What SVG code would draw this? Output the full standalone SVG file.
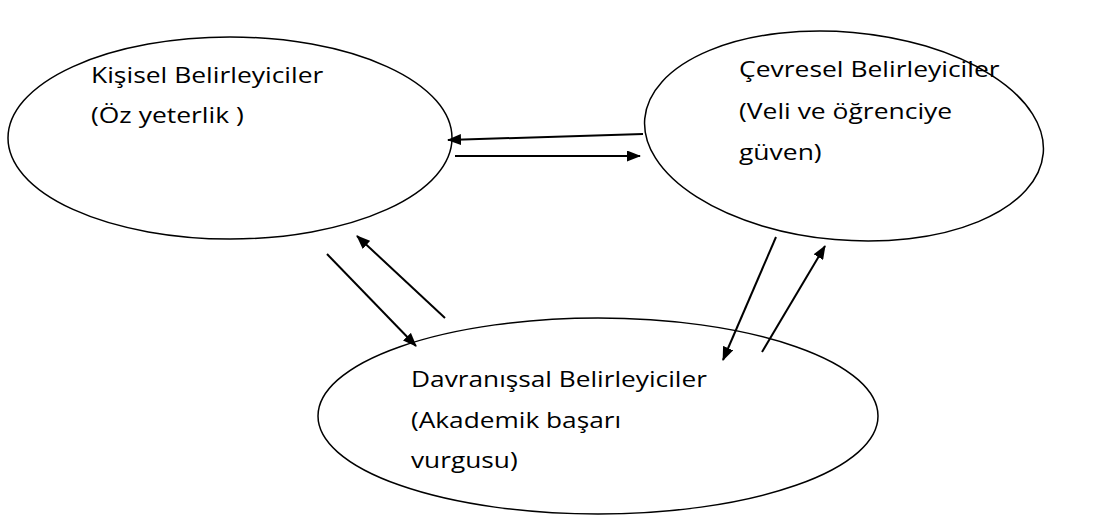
<svg xmlns="http://www.w3.org/2000/svg" width="1097" height="532" viewBox="0 0 1097 532">
<style>
.n{fill:#fff;stroke:#000;stroke-width:1.5}
.t{font-family:"Open Sans","Liberation Sans",sans-serif;font-size:21px;fill:#000}
.c line{stroke:#000;stroke-width:2;marker-end:url(#ah)}
</style>
<defs>
<marker id="ah" markerWidth="14" markerHeight="11" refX="13" refY="5.5" orient="auto" markerUnits="userSpaceOnUse"><path d="M0,0 L14,5.5 L0,11 Z" fill="#000"/></marker>
</defs>
<rect width="1097" height="532" fill="#fff"/>
<g id="kisisel">
<ellipse class="n" cx="230" cy="138" rx="222" ry="101"/>
<g transform="translate(91,0) scale(1.26,1)">
<text class="t" x="0" y="83">Kişisel Belirleyiciler</text>
<text class="t" x="0" y="123">(Öz yeterlik )</text>
</g>
</g>
<g id="cevresel">
<ellipse class="n" cx="844" cy="136" rx="200" ry="104" transform="rotate(5 844 136)"/>
<g transform="translate(739,0) scale(1.26,1)">
<text class="t" x="0" y="77">Çevresel Belirleyiciler</text>
<text class="t" x="0" y="119">(Veli ve öğrenciye</text>
<text class="t" x="0" y="160">güven)</text>
</g>
</g>
<g id="davranissal">
<ellipse class="n" cx="598" cy="416" rx="280" ry="98"/>
<g transform="translate(411,0) scale(1.25,1)">
<text class="t" x="0" y="387">Davranışsal Belirleyiciler</text>
<text class="t" x="0" y="428">(Akademik başarı</text>
<text class="t" x="0" y="468">vurgusu)</text>
</g>
</g>
<g id="connectors" class="c">
<line x1="643" y1="134" x2="448" y2="140"/>
<line x1="455" y1="156" x2="640" y2="156"/>
<line x1="327" y1="254" x2="416" y2="346"/>
<line x1="445" y1="318" x2="357" y2="236"/>
<line x1="776" y1="237" x2="723" y2="360"/>
<line x1="762" y1="352" x2="825" y2="246"/>
</g>
</svg>
